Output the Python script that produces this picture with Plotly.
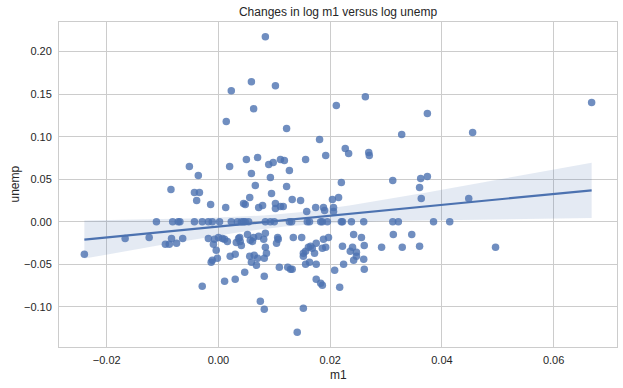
import numpy as np
import plotly.graph_objects as go

# Points above zero change in unemp
m1_up = [0.0084, 0.0059, 0.0102, 0.0023, 0.0063, 0.0211, 0.0014, 0.0122, 0.0181, 0.0192,
         -0.0052, -0.0036, 0.0020, 0.0050, 0.0070, 0.0059, 0.0090, 0.0098, 0.0111, 0.0118,
         0.0156, 0.0127, 0.0093, 0.0066, 0.0122, -0.0085, -0.0043, -0.0034, -0.0039, -0.0014,
         0.0013, 0.0045, 0.0048, 0.0056, 0.0095, 0.0072, 0.0079, 0.0102, 0.0102, 0.0111,
         0.0116, 0.0132, 0.0147, 0.0158, 0.0263, 0.0374, 0.0328, 0.0455, 0.0668, 0.0227,
         0.0233, 0.0269, 0.0270, 0.0220, 0.0312, 0.0362, 0.0374, 0.0360, 0.0363, 0.0174,
         0.0188, 0.0190, 0.0206, 0.0206, 0.0204, 0.0215, 0.0448]
unemp_up = [0.2173, 0.1646, 0.1599, 0.1540, 0.1329, 0.1365, 0.1177, 0.1095, 0.0966, 0.0778,
            0.0649, 0.0544, 0.0649, 0.0732, 0.0755, 0.0567, 0.0673, 0.0696, 0.0732, 0.0720,
            0.0732, 0.0603, 0.0521, 0.0427, 0.0415, 0.0380, 0.0345, 0.0345, 0.0251, 0.0204,
            0.0169, 0.0216, 0.0204, 0.0286, 0.0333, 0.0169, 0.0192, 0.0216, 0.0157, 0.0181,
            0.0181, 0.0263, 0.0251, 0.0122, 0.1470, 0.1271, 0.1025, 0.1048, 0.1400, 0.0860,
            0.0802, 0.0814, 0.0778, 0.0462, 0.0485, 0.0509, 0.0532, 0.0403, 0.0274, 0.0169,
            0.0169, 0.0134, 0.0169, 0.0122, 0.0263, 0.0286, 0.0274]

# Points with no change in unemp
m1_zero = [-0.0111, -0.0082, -0.0072, -0.0069, -0.0043, -0.0029, -0.0018, -0.0011, 0.0002, 0.0023,
           0.0034, 0.0041, 0.0045, 0.0048, 0.0054, 0.0084, 0.0093, 0.0100, 0.0127, 0.0131,
           0.0159, 0.0163, 0.0183, 0.0186, 0.0195, 0.0220, 0.0222, 0.0238, 0.0260, 0.0312,
           0.0322, 0.0385, 0.0414]

# Points below zero change in unemp
m1_down = [-0.0240, -0.0167, -0.0124, -0.0095, -0.0088, -0.0084, -0.0075, -0.0064, -0.0029, -0.0018,
           -0.0009, -0.0007, 0.0000, 0.0007, 0.0011, 0.0016, -0.0004, -0.0011, -0.0013, -0.0002,
           0.0021, 0.0030, 0.0032, 0.0036, 0.0038, 0.0039, 0.0041, 0.0052, 0.0057, 0.0063,
           0.0072, 0.0081, 0.0084, 0.0056, 0.0064, 0.0059, 0.0068, 0.0070, 0.0082, 0.0084,
           0.0086, 0.0047, 0.0030, 0.0011, 0.0082, 0.0106, 0.0107, 0.0104, 0.0134, 0.0149,
           0.0109, 0.0124, 0.0129, 0.0132, 0.0156, 0.0152, 0.0152, 0.0156, 0.0161, 0.0075,
           0.0082, 0.0152, 0.0141, 0.0188, 0.0197, 0.0175, 0.0165, 0.0168, 0.0172, 0.0186,
           0.0192, 0.0163, 0.0175, 0.0175, 0.0183, 0.0186, 0.0242, 0.0256, 0.0222, 0.0240,
           0.0236, 0.0247, 0.0247, 0.0242, 0.0260, 0.0261, 0.0292, 0.0313, 0.0346, 0.0329,
           0.0360, 0.0496, 0.0224, 0.0261, 0.0208, 0.0217, 0.0061]
unemp_down = [-0.0382, -0.0195, -0.0183, -0.0265, -0.0265, -0.0195, -0.0253, -0.0195, -0.0757, -0.0195,
              -0.0265, -0.0206, -0.0183, -0.0195, -0.0206, -0.0230, -0.0335, -0.0453, -0.0476, -0.0429,
              -0.0406, -0.0382, -0.0242, -0.0195, -0.0183, -0.0230, -0.0277, -0.0148, -0.0218, -0.0183,
              -0.0171, -0.0206, -0.0136, -0.0406, -0.0394, -0.0476, -0.0511, -0.0429, -0.0429, -0.0300,
              -0.0370, -0.0593, -0.0675, -0.0699, -0.0640, -0.0183, -0.0206, -0.0253, -0.0183, -0.0183,
              -0.0535, -0.0535, -0.0558, -0.0558, -0.0347, -0.0370, -0.0406, -0.0499, -0.0300, -0.0933,
              -0.1027, -0.1015, -0.1297, -0.0206, -0.0183, -0.0253, -0.0288, -0.0312, -0.0370, -0.0312,
              -0.0300, -0.0476, -0.0499, -0.0675, -0.0722, -0.0746, -0.0148, -0.0183, -0.0288, -0.0300,
              -0.0347, -0.0359, -0.0406, -0.0453, -0.0441, -0.0277, -0.0300, -0.0148, -0.0148, -0.0300,
              -0.0288, -0.0300, -0.0499, -0.0558, -0.0570, -0.0769, -0.0230]

x_ticks = [-0.02, 0.00, 0.02, 0.04, 0.06]
y_ticks = [-0.10, -0.05, 0.00, 0.05, 0.10, 0.15, 0.20]

x = np.array(m1_up + m1_zero + m1_down)
y = np.array(unemp_up + [0.0] * len(m1_zero) + unemp_down)

# OLS fit with 95% confidence band
n = len(x)
X = np.column_stack([np.ones(n), x])
beta, *_ = np.linalg.lstsq(X, y, rcond=None)
resid = y - X @ beta
s2 = resid @ resid / (n - 2)
XtX_inv = np.linalg.inv(X.T @ X)
xg = np.linspace(x.min(), x.max(), 100)
Xg = np.column_stack([np.ones_like(xg), xg])
yg = Xg @ beta
se = np.sqrt(s2 * np.einsum("ij,jk,ik->i", Xg, XtX_inv, Xg))
t = 1.972
lo, hi = yg - t * se, yg + t * se

blue = "#4C72B0"
fig = go.Figure()
fig.add_trace(go.Scatter(x=np.concatenate([xg, xg[::-1]]), y=np.concatenate([hi, lo[::-1]]),
                         fill="toself", fillcolor="rgba(76,114,176,0.15)", line=dict(width=0),
                         mode="lines", hoverinfo="skip", showlegend=False))
fig.add_trace(go.Scatter(x=x, y=y, mode="markers",
                         marker=dict(color=blue, size=7.5, opacity=0.8, line=dict(width=0)),
                         showlegend=False))
fig.add_trace(go.Scatter(x=xg, y=yg, mode="lines", line=dict(color=blue, width=2.2),
                         showlegend=False))

pad_x = 0.05 * (x.max() - x.min())
pad_y = 0.05 * (y.max() - y.min())
axis_common = dict(showgrid=True, gridcolor="#cccccc", gridwidth=1, zeroline=False,
                   showline=True, linecolor="#cccccc", linewidth=1, mirror=True,
                   ticks="", tickfont=dict(family="Liberation Sans, Arial", size=11, color="#262626"),
                   tickformat=".2f")
fig.update_xaxes(range=[x.min() - pad_x, x.max() + pad_x], tickvals=x_ticks,
                 ticklabelstandoff=3, **axis_common)
fig.update_yaxes(range=[y.min() - pad_y, y.max() + pad_y], tickvals=y_ticks,
                 ticklabelstandoff=4, **axis_common)

fig.update_layout(
    width=623, height=388,
    margin=dict(l=59, r=6, t=22, b=41),
    paper_bgcolor="white", plot_bgcolor="white",
    font=dict(family="Liberation Sans, Arial", color="#262626"),
    title=dict(text="Changes in log m1 versus log unemp", x=338 / 623, xanchor="center",
               y=1 - 12 / 388, yanchor="middle", yref="container",
               font=dict(size=12, color="#262626")),
    annotations=[
        dict(text="m1", x=0.5, y=-28 / 325, xref="paper", yref="paper",
             showarrow=False, font=dict(size=12, color="#262626"), xanchor="center", yanchor="middle"),
        dict(text="unemp", x=-45 / 558, y=0.5, xref="paper", yref="paper", textangle=-90,
             showarrow=False, font=dict(size=12, color="#262626"), xanchor="center", yanchor="middle"),
    ],
)

fig.write_html("out.html", config={"displayModeBar": False},
               post_script="document.body.style.margin='0';")
